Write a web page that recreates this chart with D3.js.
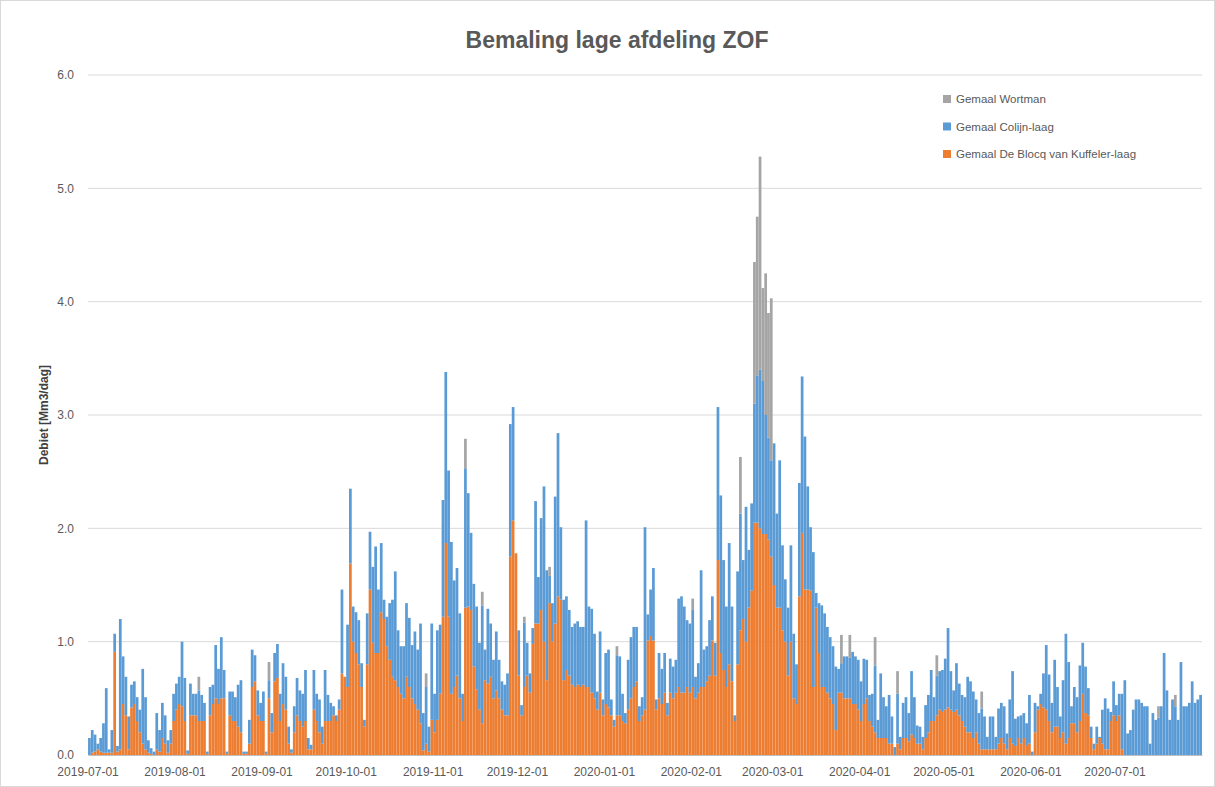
<!DOCTYPE html>
<html><head><meta charset="utf-8">
<script src="https://cdn.jsdelivr.net/npm/d3@7"></script>
<style>
body{margin:0;background:#fff;}
text{font-family:"Liberation Sans",Arial,sans-serif;}
</style>
</head><body>
<svg id="chart" width="1215" height="787"></svg>
<script>
// ---- DATA (daily, 2019-07-01 .. 2020-07-31), Mm3/dag ----
const startDate = "2019-07-01";

// Gemaal De Blocq van Kuffeler-laag (orange, bottom)
const blocq = [
 0,.02,.03,.05,.03,.02,.02,.02,.02,.91,.03,.05,.45,.35,.05,.42,.45,.30,.20,.10,.05,.02,.01,0,.05,.03,.15,.10,.02,.10,.30,
 .40,.45,.43,.30,.01,.35,.35,.35,.30,.30,.30,.01,.35,.45,.50,.45,.50,.50,.01,.35,.30,.30,.25,.20,.01,.01,.10,.60,.65,.35,.30,
 .30,.01,.50,.20,.65,.68,.30,.45,.40,.10,.02,.20,.35,.30,.25,.30,.05,.05,.40,.30,.20,.10,.30,.30,.30,.35,.30,.40,.72,.69,
 .60,1.69,1.00,.90,.80,.60,.25,.80,1.46,.99,.90,.90,1.26,1.20,.96,.84,.69,.66,.60,.54,.50,.69,.60,.50,.45,.40,.28,.04,.10,.03,.31,
 .20,.31,.54,1.22,1.87,1.22,.54,.60,.70,.50,.30,1.30,1.31,1.28,.78,.58,.40,.28,.66,.63,.69,.50,.57,.50,.40,.35,.35,1.75,2.07,1.78,
 .70,.35,.60,.70,.55,.98,1.16,1.16,1.28,1.00,.66,1.34,1.00,1.16,1.40,1.37,.66,.75,.70,.62,.60,.62,.60,.62,.60,.60,.55,.50,.40,.55,.35,
 .45,.42,.35,.25,.35,.35,.30,.28,.40,.50,.60,.65,.30,.35,.40,1.01,1.05,1.01,.40,.50,.45,.55,.35,.55,.50,.55,.60,.55,.55,.60,.55,
 .60,.50,.55,.60,.60,.65,.70,1.01,.70,1.72,.90,.75,.60,.80,.65,.30,.80,1.10,1.20,1.00,1.30,1.45,2.05,2.05,2.00,1.95,1.95,1.90,1.75,
 1.50,1.30,1.30,1.10,1.00,.70,1.00,.50,.45,1.40,1.96,1.46,1.46,1.45,.60,1.30,.90,.60,.60,.55,.50,.45,.22,.55,.55,.50,.50,.50,.45,.45,.40,
 .30,.45,.50,.30,.25,.20,.15,.15,.15,.15,.10,.10,0,.10,.05,.15,.15,.12,.18,.15,.10,.10,.05,.15,.20,.30,.30,.35,.40,.38,
 .40,.42,.40,.38,.40,.35,.30,.25,.20,.20,.15,.20,.10,.05,.05,.05,.05,.05,.05,.10,.15,.10,.05,.15,.10,.08,.15,.10,.15,.08,.10,
 0,.20,.40,.45,.42,.40,.30,.20,.25,.25,.15,.20,.10,.15,.28,.28,.20,.30,.54,.37,.35,.15,.05,.10,.15,.10,.05,.05,.30,.35,
 .30,.35,.05,0,0,0,0,0,0,0,0,0,0,0,0,0,0,0,0,0,0,0,0,0,0,0,0,0,0,0,0
];

// Gemaal Colijn-laag (blue, middle)
const colijn = [
 .15,.20,.15,.05,.12,.26,.57,.03,.20,.16,.05,1.15,.42,.34,.29,.20,.20,.21,.20,.66,.46,.11,.05,.03,.32,.19,.31,.25,.11,.12,.24,
 .23,.24,.57,.38,.03,.28,.19,.19,.27,.23,.16,.02,.25,.17,.47,.31,.54,.25,.02,.21,.26,.21,.37,.46,.02,.02,.21,.33,.23,.22,.16,
 .26,.02,.16,.17,.25,.30,.24,.36,.29,.15,.03,.23,.33,.27,.29,.45,.10,.04,.35,.24,.29,.15,.45,.23,.16,.08,.05,.09,.74,0,
 .55,.66,.31,.36,.39,.21,.06,.45,.51,.67,.94,.56,.61,.17,.26,.50,.68,.96,.50,.42,.46,.65,.61,.47,.64,.53,.88,.33,.50,.22,.85,
 .34,.79,.61,1.03,1.51,1.29,1.34,.94,.95,.75,.24,1.23,1.00,.68,.73,.73,.59,1.04,.27,.66,.47,.34,.52,.34,.25,.27,.37,1.17,1.00,0,
 .40,.09,.57,.29,.17,.14,1.08,.41,.81,1.37,.97,.24,.34,1.12,1.44,.64,.71,.65,.58,.51,.56,.56,.53,.51,1.47,.71,.74,.57,.16,.54,.14,
 .45,.51,.14,.06,.53,.52,.24,.09,.44,.54,.53,.48,.13,.16,1.61,.23,.41,.64,.09,.40,.31,.35,.11,.30,.28,.29,.78,.85,.76,.59,.61,
 .68,.19,.26,1.03,.33,.31,.49,.39,.29,1.35,1.39,.97,.71,1.07,.66,.05,.82,1.03,.52,1.19,.51,.77,1.05,1.30,1.40,1.35,1.05,.90,.85,
 1.25,.83,1.30,.75,.55,.60,.85,.57,.35,1.00,1.38,1.35,.91,.56,1.19,.13,.44,.72,.65,.58,.54,.51,.56,.21,.26,.37,.37,.36,.46,.42,.44,
 .35,.40,.34,.23,.29,.59,.16,.57,.36,.28,.43,.24,.07,.44,.11,.31,.36,.25,.56,.36,.16,.15,.11,.29,.33,.45,.21,.35,.34,.37,
 .45,.70,.34,.19,.41,.28,.23,.26,.49,.45,.41,.29,.27,.36,.29,.11,.29,.29,.11,.31,.31,.33,.14,.34,.64,.24,.19,.25,.22,.20,.43,
 .03,.26,.03,.09,.30,.57,.41,.26,.59,.35,.19,.46,.97,.67,.15,.32,.31,.49,.45,.41,.24,.10,.05,.15,.01,.30,.45,.36,.08,.30,
 .14,.19,.49,.66,.19,.22,.40,.49,.49,.46,.43,.43,.10,.37,.31,.33,.43,.90,.57,.31,.49,.43,.31,.82,.43,.43,.46,.65,.46,.49,.53
];

// Gemaal Wortman (grey, top)
const wortman = [
 0,0,0,0,0,0,0,0,0,0,0,0,0,0,0,0,0,0,0,0,0,0,0,0,0,0,0,0,0,0,0,
 0,0,0,0,0,0,0,0,.12,0,0,0,0,0,0,0,0,0,0,0,0,0,0,0,0,0,0,0,0,0,0,
 0,0,.16,0,0,0,0,0,0,0,0,0,0,0,0,0,0,0,0,0,0,0,0,0,0,0,0,0,0,0,
 0,0,0,0,0,0,0,0,0,0,0,0,0,0,0,0,0,0,0,0,0,0,0,0,0,0,0,0,.12,0,0,
 0,0,0,0,0,0,0,0,0,0,0,.26,0,0,0,0,0,.12,0,0,0,0,0,0,0,0,0,0,0,0,
 0,0,.05,0,0,0,0,0,0,0,0,.08,0,0,0,0,0,0,0,0,0,0,0,0,0,0,0,0,0,0,0,
 0,0,0,0,.08,0,0,0,0,0,0,0,0,0,0,0,0,0,0,0,0,0,0,0,0,0,0,0,0,0,0,
 .10,0,0,0,0,0,0,0,0,0,0,0,0,0,0,0,0,.50,0,0,0,0,1.25,1.40,1.88,.82,1.25,1.10,1.43,
 0,0,0,0,0,0,0,0,0,0,0,0,0,0,0,0,0,0,0,0,0,0,0,0,.25,0,0,.20,0,0,0,
 0,0,0,0,0,.25,0,0,0,0,0,0,0,.20,0,0,0,0,0,0,0,0,0,0,0,0,0,.18,0,0,
 0,0,0,0,0,0,0,0,0,0,0,0,0,.15,0,0,0,0,0,0,0,0,0,0,0,0,0,0,0,0,0,
 0,0,0,0,0,0,0,0,0,0,0,0,0,0,0,0,0,0,0,0,0,0,0,0,0,0,0,0,0,0,
 0,0,0,0,0,0,0,0,0,0,0,0,0,0,0,.10,0,0,0,0,0,.10,0,0,0,0,0,0,0,0,0
];

const yTicks = [0, 1, 2, 3, 4, 5, 6];
const xTickLabels = ["2019-07-01","2019-08-01","2019-09-01","2019-10-01","2019-11-01","2019-12-01",
  "2020-01-01","2020-02-01","2020-03-01","2020-04-01","2020-05-01","2020-06-01","2020-07-01"];
const seriesKeys = ["blocq", "colijn", "wortman"];
const seriesNames = ["Gemaal De Blocq van Kuffeler-laag", "Gemaal Colijn-laag", "Gemaal Wortman"];
const seriesColors = ["#ED7D31", "#5B9BD5", "#A5A5A5"];
const titleText = "Bemaling lage afdeling ZOF";
const yLabelText = "Debiet [Mm3/dag]";

// ---- BUILD ----
const parse = d3.utcParse("%Y-%m-%d");
const fmt = d3.utcFormat("%Y-%m-%d");
const t0 = parse(startDate);
const days = d3.utcDay.range(t0, d3.utcDay.offset(t0, blocq.length)).map(fmt);
const rows = days.map((d, i) => ({date: d, blocq: blocq[i], colijn: colijn[i], wortman: wortman[i]}));

const svg = d3.select("#chart");
const W = 1215, H = 787;
const m = {left: 88, right: 13, top: 75, bottom: 32};

svg.append("rect").attr("x", 0.5).attr("y", 0.5).attr("width", W - 1).attr("height", H - 1)
  .attr("fill", "#fff").attr("stroke", "#d9d9d9");

const x = d3.scaleBand().domain(days).range([m.left, W - m.right]).paddingInner(0.03).paddingOuter(0.02);
const y = d3.scaleLinear().domain([0, 6]).range([H - m.bottom, m.top]);

// gridlines
svg.append("g").selectAll("line").data(yTicks.filter(t => t > 0)).join("line")
  .attr("x1", m.left).attr("x2", W - m.right)
  .attr("y1", d => y(d)).attr("y2", d => y(d))
  .attr("stroke", "#d9d9d9").attr("stroke-width", 1);

// stacked bars
const stack = d3.stack().keys(seriesKeys)(rows);
svg.append("g").selectAll("g").data(stack).join("g")
  .attr("fill", (d, i) => seriesColors[i])
  .selectAll("rect").data(d => d.filter(p => p[1] - p[0] > 0)).join("rect")
  .attr("x", d => x(d.data.date))
  .attr("width", x.bandwidth())
  .attr("y", d => y(d[1]))
  .attr("height", d => y(d[0]) - y(d[1]));

// y axis
const yAxis = d3.axisLeft(y).tickValues(yTicks).tickFormat(d3.format(".1f")).tickSize(0).tickPadding(14);
const yg = svg.append("g").attr("transform", `translate(${m.left},0)`).call(yAxis);
yg.select(".domain").remove();
yg.selectAll("text").attr("fill", "#595959").attr("font-size", 12);

// x axis
const xAxis = d3.axisBottom(x).tickValues(xTickLabels).tickSize(0).tickPadding(12);
const xg = svg.append("g").attr("transform", `translate(0,${H - m.bottom})`).call(xAxis);
xg.select(".domain").attr("stroke", "#bfbfbf");
xg.selectAll("text").attr("fill", "#595959").attr("font-size", 12)
  .attr("x", -x.bandwidth() / 2);

// title
svg.append("text").attr("x", 617).attr("y", 48).attr("text-anchor", "middle")
  .attr("font-size", 23).attr("font-weight", "bold").attr("fill", "#595959").text(titleText);

// y label
svg.append("text").attr("transform", `translate(48,${(m.top + H - m.bottom) / 2}) rotate(-90)`)
  .attr("text-anchor", "middle").attr("font-size", 12).attr("font-weight", "bold")
  .attr("fill", "#404040").text(yLabelText);

// legend (Wortman on top)
const legendOrder = [2, 1, 0];
const lg = svg.append("g").attr("transform", "translate(943,95)");
legendOrder.forEach((k, j) => {
  const g = lg.append("g").attr("transform", `translate(0,${j * 27.5})`);
  g.append("rect").attr("width", 8).attr("height", 8).attr("fill", seriesColors[k]);
  g.append("text").attr("x", 13).attr("y", 8).attr("font-size", 11.5).attr("fill", "#595959").text(seriesNames[k]);
});
</script>
</body></html>
